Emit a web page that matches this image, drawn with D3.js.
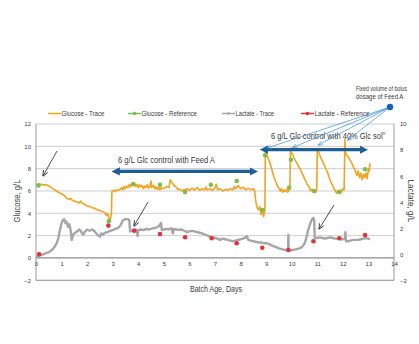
<!DOCTYPE html>
<html><head><meta charset="utf-8">
<script src="https://cdn.jsdelivr.net/npm/d3@7"></script>
<style>
html,body{margin:0;padding:0;background:#fff;}
svg{display:block;font-family:"Liberation Sans Narrow","Arial Narrow","Liberation Sans",Arial,sans-serif;}
</style></head>
<body>
<svg id="c" width="419" height="344"></svg>
<script>
// ---- data ----
const glcTraceDays = [0.00,0.1,0.2,0.3,0.4,0.5,0.6,0.7,0.8,0.9,1.0,1.1,1.2,1.3,1.35,1.4,1.5,1.6,1.7,1.75,1.8,1.9,2.0,2.1,2.2,2.3,2.4,2.5,2.6,2.7,2.75,2.8,2.85,2.9,2.93,2.95,2.97,3.05,3.1,3.15,3.2,3.3,3.35,3.4,3.45,3.5,3.55,3.6,3.65,3.7,3.75,3.8,3.85,3.9,3.95,4.0,4.05,4.1,4.15,4.2,4.25,4.3,4.35,4.4,4.45,4.5,4.52,4.6,4.65,4.7,4.75,4.8,4.85,4.9,5.0,5.1,5.2,5.25,5.3,5.4,5.5,5.55,5.6,5.7,5.8,5.85,5.9,6.0,6.1,6.2,6.3,6.4,6.5,6.6,6.65,6.7,6.8,6.9,7.0,7.05,7.1,7.2,7.3,7.4,7.5,7.6,7.7,7.75,7.8,7.9,8.0,8.1,8.2,8.3,8.4,8.5,8.55,8.6,8.65,8.7,8.75,8.8,8.85,8.9,8.95,8.97,9.0,9.05,9.1,9.15,9.2,9.25,9.3,9.35,9.4,9.45,9.5,9.55,9.6,9.65,9.7,9.75,9.8,9.85,9.9,9.93,9.95,10.0,10.05,10.1,10.15,10.2,10.25,10.3,10.35,10.4,10.45,10.5,10.55,10.6,10.65,10.7,10.75,10.8,10.85,10.9,10.95,10.98,11.0,11.05,11.1,11.15,11.2,11.25,11.3,11.35,11.4,11.45,11.5,11.55,11.6,11.65,11.7,11.75,11.8,11.85,11.9,11.95,12.0,12.05,12.08,12.1,12.15,12.2,12.25,12.3,12.35,12.4,12.45,12.5,12.55,12.6,12.65,12.7,12.75,12.8,12.85,12.9,12.95,13.0,13.03,13.06];
const glcTraceVals = [6.5,6.55,6.6,6.55,6.55,6.45,6.3,6.15,6.0,5.85,5.75,5.6,5.35,5.25,5.35,5.2,5.1,5.0,4.95,5.1,4.9,4.8,4.65,4.6,4.5,4.45,4.3,4.25,4.15,4.05,3.8,4.0,3.6,3.4,3.7,4.1,6.0,6.05,5.95,6.1,6.05,6.15,6.3,6.1,6.4,6.2,6.45,6.3,6.6,6.35,6.7,6.5,6.75,6.4,6.6,6.3,6.55,6.35,6.5,6.2,6.45,6.3,6.55,6.25,6.4,6.9,6.3,6.5,6.2,6.4,6.15,6.35,6.1,6.3,6.2,6.4,6.3,7.0,6.8,6.5,6.3,6.1,6.2,6.0,6.15,6.0,6.2,6.05,6.25,6.1,6.3,6.05,6.2,6.1,6.35,6.1,6.2,6.05,6.3,6.6,6.1,6.2,6.0,6.15,6.05,6.2,6.1,6.4,6.2,6.5,6.2,6.35,6.1,6.25,6.1,6.2,6.0,5.0,4.5,4.3,4.6,3.9,4.2,3.7,4.3,9.7,9.4,9.1,8.8,8.5,8.1,7.7,7.3,7.0,6.7,6.4,6.25,6.0,6.2,5.9,6.1,5.95,6.15,5.9,6.1,6.3,9.6,9.4,9.2,8.9,8.7,8.5,8.3,8.05,7.9,7.6,7.4,7.1,6.9,6.6,6.5,6.25,6.0,6.15,5.85,6.1,5.9,6.2,9.8,9.5,9.2,8.9,8.7,8.4,8.2,7.9,7.7,7.3,7.0,6.7,6.5,6.2,6.05,5.8,6.0,5.85,6.1,5.9,6.2,6.1,10.6,9.5,9.2,9.1,8.9,8.7,8.5,8.2,8.0,7.7,7.4,7.8,7.2,7.6,7.0,7.5,7.2,7.6,7.1,8.0,7.8,8.5];

const glcRefDays = [0.1,2.85,3.8,4.85,5.83,6.84,7.85,8.85,8.96,9.9,9.97,10.88,11.86,12.87];
const glcRefVals = [6.5,3.3,6.6,6.55,5.9,6.55,6.9,4.3,9.2,6.3,8.8,6.0,5.9,7.95];

const lacTraceDays = [0.0,0.1,0.2,0.3,0.4,0.5,0.6,0.7,0.8,0.87,0.93,1.0,1.05,1.1,1.15,1.2,1.25,1.3,1.35,1.4,1.45,1.5,1.6,1.7,1.75,1.8,1.85,1.9,2.0,2.1,2.2,2.3,2.4,2.5,2.55,2.6,2.7,2.8,2.9,3.0,3.1,3.2,3.3,3.35,3.4,3.5,3.6,3.65,3.68,3.75,3.85,3.95,3.97,4.0,4.1,4.2,4.3,4.4,4.5,4.6,4.7,4.8,4.89,4.92,5.0,5.1,5.2,5.3,5.35,5.4,5.5,5.6,5.7,5.8,5.9,6.0,6.1,6.2,6.3,6.4,6.5,6.6,6.7,6.8,6.9,7.0,7.1,7.2,7.3,7.4,7.5,7.6,7.7,7.8,7.9,8.0,8.1,8.2,8.25,8.3,8.4,8.5,8.6,8.7,8.8,8.9,9.0,9.1,9.2,9.3,9.4,9.5,9.6,9.7,9.8,9.86,9.87,9.88,9.95,10.0,10.1,10.2,10.3,10.4,10.5,10.55,10.6,10.65,10.7,10.75,10.8,10.85,10.88,10.9,11.0,11.1,11.2,11.3,11.4,11.5,11.6,11.7,11.8,11.9,12.0,12.08,12.1,12.12,12.2,12.3,12.4,12.5,12.6,12.7,12.8,12.9,13.0,13.06];
const lacTraceVals = [-0.25,-0.15,-0.05,0.0,0.1,0.15,0.3,0.5,0.8,1.2,1.8,2.4,2.6,2.7,2.4,2.5,2.1,2.3,1.9,1.1,1.5,1.6,1.75,1.9,1.8,1.6,1.5,1.7,1.9,1.8,1.9,1.75,1.5,1.35,1.6,1.5,1.65,1.7,1.8,1.85,1.95,2.0,2.2,2.4,2.6,2.7,2.7,2.6,1.75,1.8,1.9,1.85,1.4,1.85,1.9,1.85,1.95,1.9,1.95,2.0,2.05,2.15,2.4,1.85,1.9,1.95,1.9,2.0,1.6,1.95,1.9,1.87,1.9,1.8,1.7,1.75,1.8,1.75,1.7,1.65,1.6,1.5,1.45,1.35,1.3,1.25,1.2,1.1,1.2,1.15,1.1,1.05,1.0,1.05,1.1,1.15,1.2,1.3,1.4,1.1,1.05,1.0,0.95,0.9,0.9,0.85,0.85,0.8,0.7,0.6,0.55,0.45,0.4,0.35,0.33,0.3,1.5,0.3,0.3,0.33,0.35,0.4,0.45,0.55,0.8,1.1,1.5,1.9,2.2,2.5,2.7,2.8,2.6,1.25,1.25,1.3,1.25,1.2,1.25,1.3,1.25,1.2,1.2,1.15,1.15,1.2,1.7,1.0,1.0,1.05,1.1,1.1,1.1,1.15,1.2,1.25,1.2,1.15];

const lacRefDays = [0.12,2.83,3.84,4.85,5.83,6.87,7.85,8.85,9.87,10.85,11.86,12.87];
const lacRefVals = [0.0,2.2,1.8,1.55,1.3,1.23,0.85,0.5,0.33,1.0,1.23,1.48];

const xTicks = [0,1,2,3,4,5,6,7,8,9,10,11,12,13,14];
const yLeftTicks = [-2,0,2,4,6,8,10,12];
const yRightTicks = [-2,0,2,4,6,8,10];
const legendLabels = ["Glucose - Trace","Glucose - Reference","Lactate - Trace","Lactate - Reference"];
const phaseLabels = ["6 g/L Glc control with Feed A","6 g/L Glc control with 40% Glc sol"];
const phaseSpans = [[2.96,8.68],[8.76,12.98]];
const phaseLevels = [7.75,9.7];
const bolusDays = [9.0,10.0,11.0,12.15];
const bolusLines = ["Fixed volume of bolus","dosage of Feed A"];

// ---- styles ----
const C = {glc:"#F2A41F", glcRef:"#7CBF4A", lac:"#A6A6A6", lacRef:"#E2313B", blue:"#1F5E95", thin:"#3C8ED0", grid:"#C8C8C8", txt:"#3a3a3a"};

const svg = d3.select("#c");
const x = d3.scaleLinear().domain([0,14]).range([36,394]);
const yL = d3.scaleLinear().domain([-2,12]).range([280.3,124]);
const yR = d3.scaleLinear().domain([-2,10]).range([280.3,124]);

// condensed text helper: horizontal scale to reach a target width
function condensed(parent, str, px, py, size, width, anchor, rot) {
  const g = parent.append("g");
  const t = g.append("text").attr("font-size",size).attr("fill",C.txt).text(str);
  const w = t.node().getComputedTextLength();
  const k = Math.min(1, width / w);
  const dx = anchor==="middle" ? -w*k/2 : 0;
  g.attr("transform",`translate(${px},${py})${rot?` rotate(${rot})`:""} translate(${dx},0) scale(${k},1)`);
  return t;
}

// gridlines
svg.append("g").selectAll("line").data(yLeftTicks).join("line")
  .attr("x1",x(0)).attr("x2",x(14)).attr("y1",d=>yL(d)).attr("y2",d=>yL(d))
  .attr("stroke",d=>d===0?"#8c8c8c":C.grid).attr("stroke-width",d=>d===0?1.2:0.9);
svg.append("line").attr("x1",x(0)).attr("x2",x(0)).attr("y1",yL(12)).attr("y2",yL(-2)).attr("stroke","#9a9a9a").attr("stroke-width",1);
svg.append("line").attr("x1",x(14)).attr("x2",x(14)).attr("y1",yL(12)).attr("y2",yL(-2)).attr("stroke","#9a9a9a").attr("stroke-width",1);
svg.append("line").attr("x1",x(0)).attr("x2",x(14)).attr("y1",yL(-2)).attr("y2",yL(-2)).attr("stroke","#9a9a9a").attr("stroke-width",1);

// axes
const axL = svg.append("g").attr("transform",`translate(${x(0)},0)`)
  .call(d3.axisLeft(yL).tickValues(yLeftTicks).tickSize(0).tickPadding(5));
const axR = svg.append("g").attr("transform",`translate(${x(14)},0)`)
  .call(d3.axisRight(yR).tickValues(yRightTicks).tickSize(0).tickPadding(6));
const axB = svg.append("g").attr("transform",`translate(0,${yL(0)})`)
  .call(d3.axisBottom(x).tickValues(xTicks).tickSize(0).tickPadding(4));
[axL,axR,axB].forEach(a=>{a.select(".domain").remove();a.selectAll("text").attr("font-size",6).attr("fill",C.txt).style("font-family","inherit");});

// axis titles
condensed(svg,"Glucose, g/L",20,201,9,43,"middle",-90);
condensed(svg,"Lactate, g/L",408,201,9,43,"middle",90);
condensed(svg,"Batch Age, Days",216,292,9,52,"middle",0);

// traces
const lineG = d3.line().x(d=>x(d[0])).y(d=>yL(d[1]));
const lineR = d3.line().x(d=>x(d[0])).y(d=>yR(d[1]));
svg.append("path").datum(lacTraceDays.map((d,i)=>[d,lacTraceVals[i]]))
  .attr("d",lineR).attr("fill","none").attr("stroke",C.lac).attr("stroke-width",2.4).attr("stroke-linejoin","round");
svg.append("path").datum(glcTraceDays.map((d,i)=>[d,glcTraceVals[i]]))
  .attr("d",lineG).attr("fill","none").attr("stroke",C.glc).attr("stroke-width",1.6).attr("stroke-linejoin","round");
svg.append("g").selectAll("circle").data(lacRefDays.map((d,i)=>[d,lacRefVals[i]])).join("circle")
  .attr("cx",d=>x(d[0])).attr("cy",d=>yR(d[1])).attr("r",2.3).attr("fill",C.lacRef);
svg.append("g").selectAll("circle").data(glcRefDays.map((d,i)=>[d,glcRefVals[i]])).join("circle")
  .attr("cx",d=>x(d[0])).attr("cy",d=>yL(d[1])).attr("r",2.3).attr("fill",C.glcRef);

// legend
const legX = [48,128,222,301];
const legW = [43,55.5,38.5,55];
const legCol = [C.glc,C.glcRef,C.lac,C.lacRef];
const lg = svg.append("g");
legendLabels.forEach((t,i)=>{
  lg.append("line").attr("x1",legX[i]).attr("x2",legX[i]+13).attr("y1",113.5).attr("y2",113.5).attr("stroke",legCol[i]).attr("stroke-width",1.5);
  if(i>0) lg.append("circle").attr("cx",legX[i]+6.5).attr("cy",113.5).attr("r",i===2?1.3:1.8).attr("fill",legCol[i]);
  condensed(lg,t,legX[i]+13.5,116.3,7.8,legW[i],"start",0);
});

// markers
const defs = svg.append("defs");
defs.append("marker").attr("id","bh").attr("viewBox","0 0 10 10").attr("refX",5).attr("refY",5)
  .attr("markerWidth",2.6).attr("markerHeight",3).attr("orient","auto-start-reverse").attr("markerUnits","strokeWidth")
  .append("path").attr("d","M0,0L10,5L0,10Z").attr("fill",C.blue);
defs.append("marker").attr("id","th").attr("viewBox","0 0 10 10").attr("refX",9).attr("refY",5)
  .attr("markerWidth",5).attr("markerHeight",5).attr("orient","auto").attr("markerUnits","userSpaceOnUse")
  .append("path").attr("d","M0,1L10,5L0,9").attr("fill","none").attr("stroke",C.thin).attr("stroke-width",1.2);
defs.append("marker").attr("id","kh").attr("viewBox","0 0 10 10").attr("refX",9).attr("refY",5)
  .attr("markerWidth",6).attr("markerHeight",6).attr("orient","auto").attr("markerUnits","userSpaceOnUse")
  .append("path").attr("d","M0,1L10,5L0,9").attr("fill","none").attr("stroke","#222").attr("stroke-width",1.3);

// phase arrows
phaseSpans.forEach((s,i)=>{
  svg.append("line").attr("x1",x(s[0])+4).attr("x2",x(s[1])-4).attr("y1",yL(phaseLevels[i])).attr("y2",yL(phaseLevels[i]))
    .attr("stroke",C.blue).attr("stroke-width",3.2)
    .attr("marker-start","url(#bh)").attr("marker-end","url(#bh)");
});
condensed(svg,phaseLabels[0],118,162.5,9.8,97,"start",0);
const t2 = condensed(svg,phaseLabels[1],271,138.5,9.8,114,"start",0);
t2.append("tspan").attr("dy",-3.5).attr("font-size",6).text("n");
// re-fit including superscript
{
  const g = d3.select(t2.node().parentNode);
  const w = t2.node().getComputedTextLength();
  g.attr("transform",`translate(271,138.5) scale(${114/w},1)`);
}

// bolus annotation
const cx0 = 390, cy0 = 107;
svg.append("g").selectAll("line").data(bolusDays).join("line")
  .attr("x1",cx0).attr("y1",cy0)
  .attr("x2",d=>x(d)+1).attr("y2",(d,i)=>[148,147.5,145,140][i])
  .attr("stroke",C.thin).attr("stroke-width",0.7).attr("marker-end","url(#th)");
svg.append("circle").attr("cx",cx0).attr("cy",cy0).attr("r",3.2).attr("fill","#1a62ae");
bolusLines.forEach((t,i)=>{
  condensed(svg,t,356,90.8+i*8,8,[51,47.5][i],"start",0);
});

// black pointer arrows
const ptr = [[57,151,43,176],[148,202,134,226],[334,205,319,229]];
svg.append("g").selectAll("line").data(ptr).join("line")
  .attr("x1",d=>d[0]).attr("y1",d=>d[1]).attr("x2",d=>d[2]).attr("y2",d=>d[3])
  .attr("stroke","#222").attr("stroke-width",0.8).attr("marker-end","url(#kh)");
</script>
</body></html>
